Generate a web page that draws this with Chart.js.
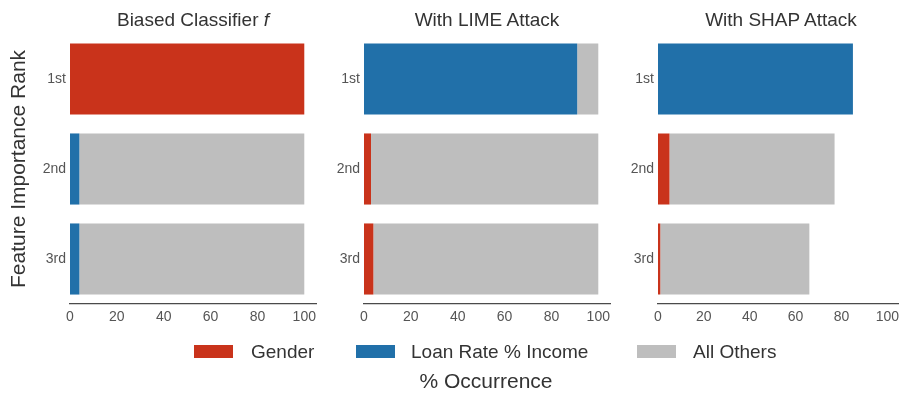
<!DOCTYPE html>
<html>
<head>
<meta charset="utf-8">
<script src="https://cdn.jsdelivr.net/npm/chart.js@4.4.1/dist/chart.umd.min.js"></script>
<style>
  html, body { margin: 0; padding: 0; background: #fff; }
  body { width: 903px; height: 393px; position: relative; overflow: hidden;
         font-family: "Liberation Sans", Arial, sans-serif; }
  .panel { position: absolute; top: 0; height: 330px; }
  .ptitle { position: absolute; top: 8px; font-size: 19px; line-height: 24px; color: #333; text-align: center; white-space: nowrap; }
  .legend { position: absolute; top: 0; left: 0; width: 903px; height: 393px; font-size: 19px; color: #333; pointer-events: none; }
  .legend span.patch { position: absolute; top: 345px; width: 39px; height: 13px; }
  .legend span.lbl { position: absolute; top: 341px; line-height: 22px; white-space: nowrap; }
  .xtitle { position: absolute; top: 369px; left: 386px; width: 200px; line-height: 24px; text-align: center; font-size: 21px; color: #333; }
</style>
</head>
<body>
<div class="panel" style="left:0;width:330px"><canvas id="c1"></canvas></div>
<div class="panel" style="left:300px;width:320px"><canvas id="c2"></canvas></div>
<div class="panel" style="left:594px;width:310px"><canvas id="c3"></canvas></div>

<div class="ptitle" style="left:70px;width:246px">Biased Classifier <i>f</i></div>
<div class="ptitle" style="left:364px;width:246px">With LIME Attack</div>
<div class="ptitle" style="left:658px;width:246px">With SHAP Attack</div>

<div class="legend">
  <span class="patch" style="left:194px;background:#c9331b"></span><span class="lbl" style="left:251px">Gender</span>
  <span class="patch" style="left:356px;background:#2170a9"></span><span class="lbl" style="left:411px">Loan Rate % Income</span>
  <span class="patch" style="left:637px;background:#bebebe"></span><span class="lbl" style="left:693px">All Others</span>
</div>
<div class="xtitle">% Occurrence</div>

<script>
// Feature-importance rank categories
const ranks = ['1st', '2nd', '3rd'];
const xTicks = [0, 20, 40, 60, 80, 100];

// % occurrence of each feature at each rank, per explanation setting
const biasedGender = [100, 0, 0];
const biasedLoan   = [0, 4, 4];
const biasedOthers = [0, 96, 96];

const limeGender = [0, 3, 4];
const limeLoan   = [91, 0, 0];
const limeOthers = [9, 97, 96];

const shapGender = [0, 5, 1];
const shapLoan   = [85, 0, 0];
const shapOthers = [0, 72, 65];

const seriesNames = ['Gender', 'Loan Rate % Income', 'All Others'];
const seriesColors = ['#c9331b', '#2170a9', '#bebebe'];

const FONT = "'Liberation Sans', Arial, sans-serif";

function makeChart(id, values, rightPad, showYTitle) {
  const datasets = values.map((v, i) => ({
    label: seriesNames[i],
    data: v,
    backgroundColor: seriesColors[i],
    borderWidth: 0,
    barPercentage: 0.79,
    categoryPercentage: 1.0
  }));
  return new Chart(document.getElementById(id), {
    type: 'bar',
    data: { labels: ranks, datasets },
    options: {
      indexAxis: 'y',
      responsive: true,
      maintainAspectRatio: false,
      animation: false,
      layout: { padding: { top: 34, right: rightPad, bottom: 0, left: 0 } },
      plugins: { legend: { display: false }, tooltip: { enabled: false }, title: { display: false } },
      scales: {
        x: {
          type: 'linear', stacked: true, min: 0, max: 105,
          grid: { display: false, drawTicks: false },
          border: { display: true, color: '#4a4a4a', width: 1.2 },
          afterBuildTicks: s => { s.ticks = xTicks.map(v => ({ value: v })); },
          afterFit: s => { s.height = 26; },
          ticks: { padding: 5, color: '#555', font: { family: FONT, size: 14 } }
        },
        y: {
          type: 'category', stacked: true,
          grid: { display: false, drawTicks: false },
          border: { display: false },
          afterFit: s => { s.width = showYTitle ? 70 : 64; },
          ticks: { padding: 4, color: '#555', font: { family: FONT, size: 14 } },
          title: {
            display: showYTitle,
            text: 'Feature Importance Rank',
            color: '#333',
            font: { family: FONT, size: 21 },
            padding: { top: 7, bottom: 0 }
          }
        }
      }
    }
  });
}

makeChart('c1', [biasedGender, biasedLoan, biasedOthers], 14, true);
makeChart('c2', [limeGender, limeLoan, limeOthers], 10, false);
makeChart('c3', [shapGender, shapLoan, shapOthers], 0, false);
</script>
</body>
</html>
